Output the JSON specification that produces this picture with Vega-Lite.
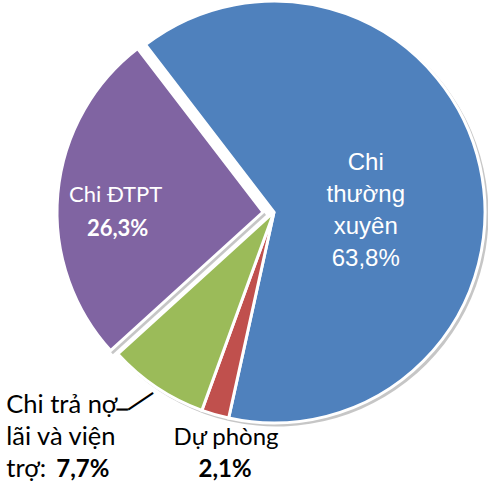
{
  "$schema": "https://vega.github.io/schema/vega-lite/v6.json",
  "width": 428,
  "height": 424,
  "autosize": "none",
  "padding": {"left": 60, "right": 0, "top": 0, "bottom": 62},
  "background": "white",
  "view": {"stroke": null},
  "data": {
    "values": [
      {"name": "Chi thường xuyên", "value": 63.8, "o": 1, "label": "Chi\nthường\nxuyên\n63,8%", "bold": ""},
      {"name": "Dự phòng", "value": 2.1, "o": 2, "label": "Dự phòng", "bold": "2,1%"},
      {"name": "Chi trả nợ lãi và viện trợ", "value": 7.7, "o": 3, "label": "Chi trả nợ\nlãi và viện\ntrợ:", "bold": "7,7%"},
      {"name": "Chi ĐTPT", "value": 26.3, "o": 4, "label": "Chi ĐTPT", "bold": "26,3%"}
    ]
  },
  "encoding": {
    "theta": {"field": "value", "type": "quantitative", "stack": true, "scale": {"range": [-0.6545, 5.6287]}},
    "order": {"field": "o", "type": "quantitative"}
  },
  "layer": [
    {
      "mark": {"type": "arc", "outerRadius": 212, "color": "#808080", "xOffset": 2.5, "yOffset": 2.5},
      "encoding": {
        "opacity": {"condition": {"test": "datum.name === 'Chi ĐTPT'", "value": 0}, "value": 0.45}
      }
    },
    {
      "mark": {"type": "arc", "outerRadius": 207, "color": "#808080", "xOffset": -8, "yOffset": 3},
      "encoding": {
        "opacity": {"condition": {"test": "datum.name === 'Chi ĐTPT'", "value": 0.45}, "value": 0}
      }
    },
    {
      "mark": {"type": "arc", "outerRadius": 211, "stroke": "white", "strokeWidth": 3},
      "encoding": {
        "color": {"field": "name", "type": "nominal", "legend": null,
          "scale": {"domain": ["Chi thường xuyên", "Dự phòng", "Chi trả nợ lãi và viện trợ", "Chi ĐTPT"],
                    "range": ["#4F81BD", "#C0504D", "#9BBB59", "#8064A2"]}},
        "opacity": {"condition": {"test": "datum.name === 'Chi ĐTPT'", "value": 0}, "value": 1}
      }
    },
    {
      "mark": {"type": "arc", "outerRadius": 206, "stroke": "white", "strokeWidth": 3, "xOffset": -11},
      "encoding": {
        "color": {"field": "name", "type": "nominal", "legend": null},
        "opacity": {"condition": {"test": "datum.name === 'Chi ĐTPT'", "value": 1}, "value": 0}
      }
    },
    {
      "mark": {"type": "text", "radius": 95, "dx": -1, "dy": -40, "baseline": "top", "align": "center",
               "font": "Liberation Sans", "fontSize": 24, "color": "white", "lineBreak": "\n", "lineHeight": 32},
      "encoding": {"text": {"condition": {"test": "datum.name === 'Chi thường xuyên'", "field": "label"}, "value": ""}}
    },
    {
      "mark": {"type": "text", "radius": 158, "dx": -1, "dy": 4, "baseline": "alphabetic", "align": "center",
               "font": "Lato", "fontSize": 22, "color": "white"},
      "encoding": {"text": {"condition": {"test": "datum.name === 'Chi ĐTPT'", "field": "label"}, "value": ""}}
    },
    {
      "mark": {"type": "text", "radius": 158, "dx": 1, "dy": 38, "baseline": "alphabetic", "align": "center",
               "font": "Lato", "fontSize": 22, "fontWeight": "bold", "color": "white"},
      "encoding": {"text": {"condition": {"test": "datum.name === 'Chi ĐTPT'", "field": "bold"}, "value": ""}}
    },
    {
      "mark": {"type": "text", "radius": 240, "dx": 19, "dy": 2.5, "baseline": "alphabetic", "align": "center",
               "font": "Lato", "fontSize": 24, "color": "black"},
      "encoding": {"text": {"condition": {"test": "datum.name === 'Dự phòng'", "field": "label"}, "value": ""}}
    },
    {
      "mark": {"type": "text", "radius": 240, "dx": 18, "dy": 35, "baseline": "alphabetic", "align": "center",
               "font": "Lato", "fontSize": 24, "fontWeight": "bold", "color": "black"},
      "encoding": {"text": {"condition": {"test": "datum.name === 'Dự phòng'", "field": "bold"}, "value": ""}}
    },
    {
      "mark": {"type": "text", "radius": 240, "dx": -134, "dy": 2, "baseline": "alphabetic", "align": "left",
               "font": "Lato", "fontSize": 25.5, "color": "black", "lineBreak": "\n", "lineHeight": 32},
      "encoding": {"text": {"condition": {"test": "datum.name === 'Chi trả nợ lãi và viện trợ'", "field": "label"}, "value": ""}}
    },
    {
      "mark": {"type": "text", "radius": 240, "dx": -84, "dy": 66, "baseline": "alphabetic", "align": "left",
               "font": "Lato", "fontSize": 24, "fontWeight": "bold", "color": "black"},
      "encoding": {"text": {"condition": {"test": "datum.name === 'Chi trả nợ lãi và viện trợ'", "field": "bold"}, "value": ""}}
    },
    {
      "mark": {"type": "text", "radius": 240, "dx": -18, "dy": -2.5, "baseline": "middle", "align": "center",
               "font": "Liberation Sans", "fontSize": 20, "color": "black", "stroke": "black", "strokeWidth": 0.6},
      "encoding": {"text": {"condition": {"test": "datum.name === 'Chi trả nợ lãi và viện trợ'", "value": "–"}, "value": ""}}
    },
    {
      "mark": {"type": "text", "radius": 231, "dx": -2.5, "dy": -6, "angle": -34, "baseline": "middle", "align": "center",
               "font": "Liberation Sans", "fontSize": 30, "color": "black"},
      "encoding": {"text": {"condition": {"test": "datum.name === 'Chi trả nợ lãi và viện trợ'", "value": "—"}, "value": ""}}
    }
  ]
}
